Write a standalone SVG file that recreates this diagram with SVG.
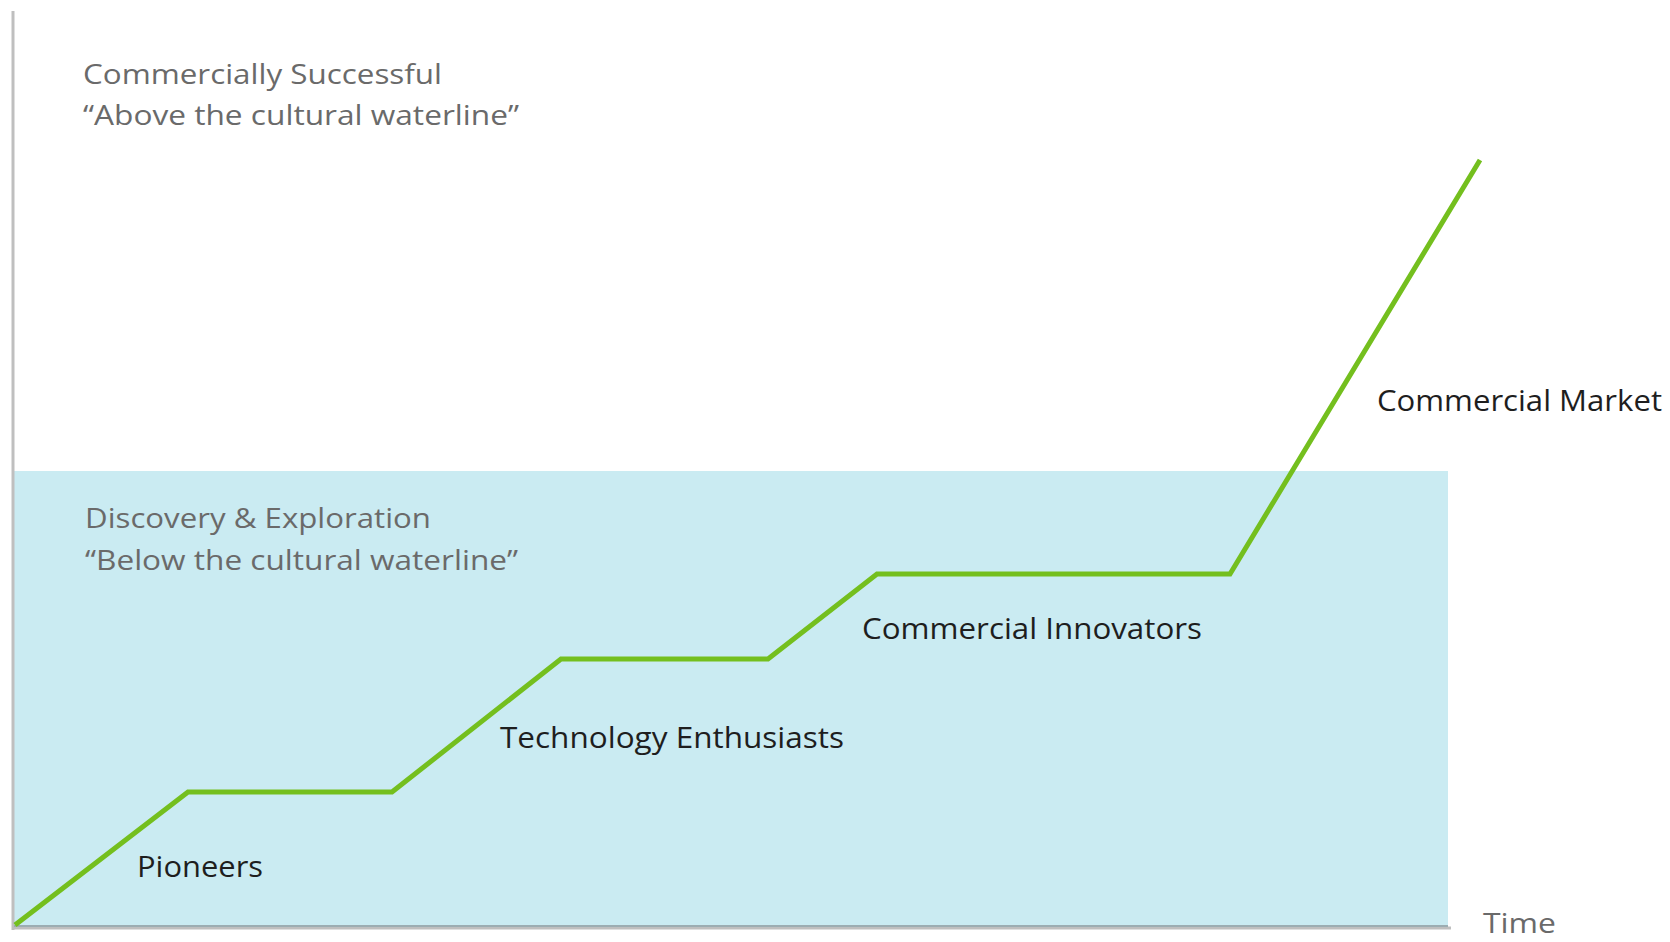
<svg xmlns="http://www.w3.org/2000/svg" width="1670" height="942" viewBox="0 0 1670 942">
  <style>
    .zone { font-family: "Open Sans", "Noto Sans", "Liberation Sans", sans-serif; font-size: 28px; fill: #6a6a6a; }
    .label { font-family: "Open Sans", "Noto Sans", "Liberation Sans", sans-serif; font-size: 30px; fill: #1e1e1e; }
    .axis { stroke: #bfbfbf; stroke-width: 3; fill: none; }
    .curve { stroke: #74bf1e; stroke-width: 5; fill: none; stroke-linejoin: miter; }
  </style>
  <rect width="1670" height="942" fill="#ffffff"/>
  <g id="waterline-zone">
    <rect x="14" y="471" width="1434" height="455" fill="#caebf2"/>
  </g>
  <g id="axes">
    <line class="axis" x1="13" y1="11" x2="13" y2="930"/>
    <line class="axis" x1="12" y1="928" x2="1451" y2="928"/>
    <line x1="14" y1="926" x2="1448" y2="926" stroke="#9cadb2" stroke-width="2"/>
  </g>
  <g id="connectors">
    <polyline class="curve" points="15,925 188,792 392,792 561,659 768,659 877,574 1230,574 1480,160"/>
  </g>
  <g id="zone-above">
    <text class="zone" x="83" y="84" textLength="359" lengthAdjust="spacingAndGlyphs">Commercially Successful</text>
    <text class="zone" x="83" y="125" textLength="436" lengthAdjust="spacingAndGlyphs">“Above the cultural waterline”</text>
  </g>
  <g id="zone-below">
    <text class="zone" x="85" y="528" textLength="346" lengthAdjust="spacingAndGlyphs">Discovery &amp; Exploration</text>
    <text class="zone" x="85" y="570" textLength="433" lengthAdjust="spacingAndGlyphs">“Below the cultural waterline”</text>
  </g>
  <g id="pioneers">
    <text class="label" x="137" y="877" textLength="126" lengthAdjust="spacingAndGlyphs">Pioneers</text>
  </g>
  <g id="technology-enthusiasts">
    <text class="label" x="500" y="748" textLength="344" lengthAdjust="spacingAndGlyphs">Technology Enthusiasts</text>
  </g>
  <g id="commercial-innovators">
    <text class="label" x="862" y="639" textLength="340" lengthAdjust="spacingAndGlyphs">Commercial Innovators</text>
  </g>
  <g id="commercial-market">
    <text class="label" x="1377" y="411" textLength="285" lengthAdjust="spacingAndGlyphs">Commercial Market</text>
  </g>
  <g id="time-axis-label">
    <text class="zone" x="1483" y="933" font-size="30" textLength="73" lengthAdjust="spacingAndGlyphs">Time</text>
  </g>
</svg>
